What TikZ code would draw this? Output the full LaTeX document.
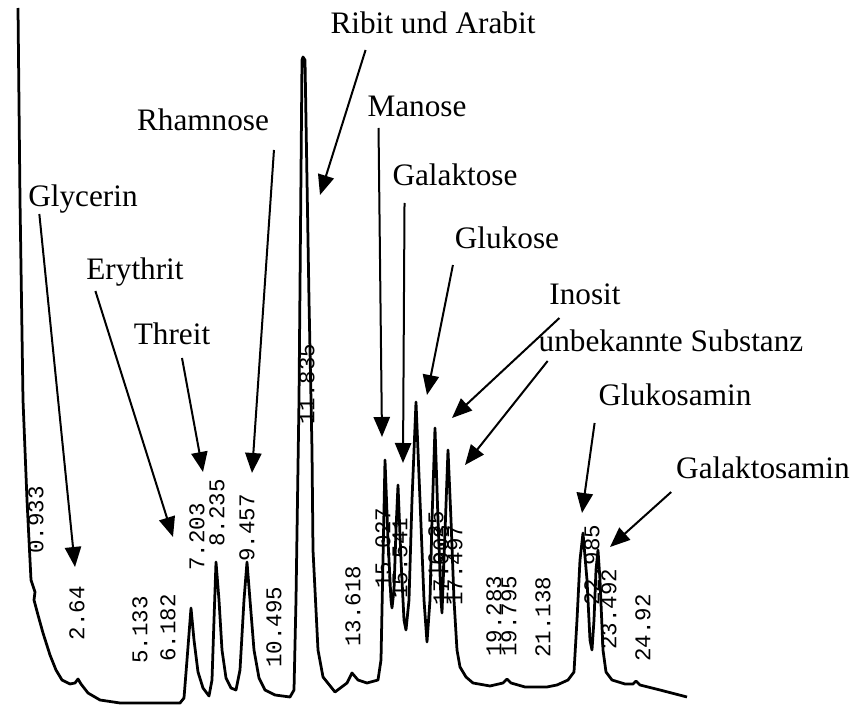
\documentclass[tikz,border=0pt]{standalone}
\usepackage{fontspec}
\setmainfont{Liberation Serif}
\newfontfamily\rtfont{Liberation Mono}
\usetikzlibrary{arrows.meta}
\tikzset{
  peaklabel/.style={font=\fontsize{12.5}{15}\selectfont, inner sep=1pt, text depth=0pt, anchor=base},
  rt/.style={font=\rtfont\fontsize{9}{10}\selectfont, rotate=90, inner sep=0pt},
  pointer/.style={line width=0.8pt, -{Triangle[length=8pt,width=6.5pt]}},
  trace/.style={line width=1.1pt, line join=round},
}
\begin{document}
\begin{tikzpicture}[x=0.4pt,y=-0.4pt]
\useasboundingbox (0,0) rectangle (856,706);
% chromatogram
\draw[trace] (18,8) -- (20,200) -- (23,400) -- (27,500) -- (31,580) -- (35,592) -- (34,600)
  -- (38,615) -- (43,633) -- (50,655) -- (56,670) -- (62,680) -- (70,684) -- (75,683)
  -- (78,679) -- (81,684) -- (88,693) -- (100,700) -- (120,703) -- (160,703) -- (180,703)
  -- (184,698) -- (187,660) -- (191,608) -- (194,640) -- (198,672) -- (203,688) -- (209,696)
  -- (212,680) -- (214,620) -- (216,562) -- (219,600) -- (222,650) -- (226,678) -- (231,688)
  -- (236,690) -- (240,670) -- (244,600) -- (247,562) -- (250,600) -- (254,650) -- (259,678)
  -- (265,690) -- (275,695) -- (290,697) -- (294,690) -- (296,600) -- (299,400) -- (302,60)
  -- (303,57) -- (305,60) -- (309,300) -- (312,450) -- (313,550) -- (318,650) -- (323,677)
  -- (335,692) -- (347,683) -- (352,673) -- (358,680) -- (367,683) -- (378,680) -- (381,660)
  -- (383,560) -- (385,460) -- (388,540) -- (391,600) -- (392,608) -- (394,590) -- (396,530)
  -- (398,485) -- (401,560) -- (404,620) -- (406,630) -- (409,600) -- (412,500) -- (416,402)
  -- (420,500) -- (424,600) -- (427,642) -- (430,600) -- (432,520) -- (435,428) -- (438,520)
  -- (441,600) -- (442,613) -- (444,560) -- (448,450) -- (451,520) -- (454,600) -- (457,650)
  -- (460,667) -- (466,677) -- (473,683) -- (490,686) -- (503,683) -- (507,679) -- (511,683)
  -- (525,687) -- (547,687) -- (557,685) -- (568,680) -- (574,672) -- (577,620) -- (580,560)
  -- (583,533) -- (587,580) -- (590,640) -- (592,650) -- (594,620) -- (596,570) -- (598,550)
  -- (600,580) -- (603,650) -- (606,672) -- (612,680) -- (625,684) -- (633,684) -- (636,681)
  -- (640,685) -- (660,690) -- (687,697);
% retention times
\node[rt] (rt-0933) at (36,520) {0.933};
\node[rt] (rt-264) at (77,613) {2.64};
\node[rt] (rt-5133) at (140,630) {5.133};
\node[rt] (rt-6182) at (168,628) {6.182};
\node[rt] (rt-7203) at (197,537) {7.203};
\node[rt] (rt-8235) at (217,513) {8.235};
\node[rt] (rt-9457) at (247,528) {9.457};
\node[rt] (rt-10495) at (274,627) {10.495};
\node[rt] (rt-11835) at (307,384) {11.835};
\node[rt] (rt-13618) at (353,606) {13.618};
\node[rt] (rt-15027) at (383,548) {15.027};
\node[rt] (rt-15541) at (400,558) {15.541};
\node[rt] (rt-1625) at (436,545) {16.25};
\node[rt] (rt-17003) at (441,565) {17.003};
\node[rt] (rt-17497) at (455,565) {17.497};
\node[rt] (rt-19283) at (494,616) {19.283};
\node[rt] (rt-19795) at (509,616) {19.795};
\node[rt] (rt-21138) at (543,617) {21.138};
\node[rt] (rt-22985) at (592,565) {22.985};
\node[rt] (rt-23492) at (609,609) {23.492};
\node[rt] (rt-2492) at (643,628) {24.92};
% substances
\node[peaklabel] (glyc) at (83,207) {Glycerin};
\node[peaklabel] (eryth) at (135,280) {Erythrit};
\node[peaklabel] (threit) at (172,345) {Threit};
\node[peaklabel] (rham) at (203,131) {Rhamnose};
\node[peaklabel] (ribit) at (433,34) {Ribit und Arabit};
\node[peaklabel] (manose) at (417,117) {Manose};
\node[peaklabel] (galak) at (455,186) {Galaktose};
\node[peaklabel] (gluk) at (507,249) {Glukose};
\node[peaklabel] (inosit) at (585,305) {Inosit};
\node[peaklabel] (unbek) at (671,352) {unbekannte Substanz};
\node[peaklabel] (glukam) at (675,406) {Glukosamin};
\node[peaklabel] (galakam) at (763,479) {Galaktosamin};
% arrow tips
\coordinate (glyc-tip) at (75,567);
\coordinate (eryth-tip) at (173,537);
\coordinate (threit-tip) at (203,472);
\coordinate (rham-tip) at (252,473);
\coordinate (ribit-tip) at (320,195);
\coordinate (manose-tip) at (382,437);
\coordinate (galak-tip) at (403,463);
\coordinate (gluk-tip) at (427,395);
\coordinate (inosit-tip) at (452,418);
\coordinate (unbek-tip) at (465,465);
\coordinate (glukam-tip) at (582,513);
\coordinate (galakam-tip) at (610,547);
% pointers
\draw[pointer] (glyc.south west) ++(14,4) -- (glyc-tip);
\draw[pointer] (eryth.south west) ++(12,8) -- (eryth-tip);
\draw[pointer] (threit.south) ++(10,10) -- (threit-tip);
\draw[pointer] (rham.south east) ++(2,16) -- (rham-tip);
\draw[pointer] (ribit.south west) ++(38,13) -- (ribit-tip);
\draw[pointer] (manose.south west) ++(14,8) -- (manose-tip);
\draw[pointer] (galak.south west) ++(15,14) -- (galak-tip);
\draw[pointer] (gluk.south west) ++(1,13) -- (gluk-tip);
\draw[pointer] (inosit.south west) ++(13,10) -- (inosit-tip);
\draw[pointer] (unbek.south west) ++(12,6) -- (unbek-tip);
\draw[pointer] (glukam.south west) ++(-1,14) -- (glukam-tip);
\draw[pointer] (galakam.south west) ++(-2,10) -- (galakam-tip);
\end{tikzpicture}
\end{document}
